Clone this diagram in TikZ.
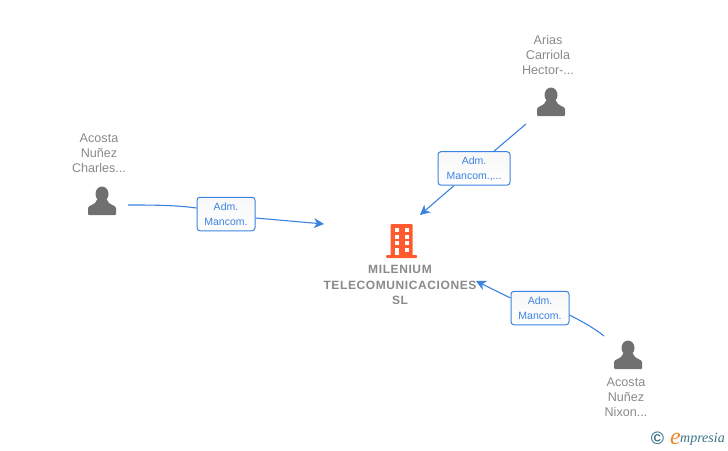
\documentclass[tikz,border=0pt]{standalone}
\usepackage{fontspec}
\setmainfont{Liberation Sans}
\newfontfamily\logofont{Liberation Serif}
\usetikzlibrary{positioning, arrows.meta}
\definecolor{linkblue}{HTML}{3B83E0}
\definecolor{namegray}{HTML}{8A8A8A}
\definecolor{icongray}{HTML}{707070}
\definecolor{firmorange}{HTML}{FF5B2E}
\definecolor{logoteal}{HTML}{3A7488}
\definecolor{logoorange}{HTML}{F08A24}
\tikzset{
personlabel/.style = {text = namegray, align = center, inner sep = 0pt,
   font = \fontsize{12.6}{15}\selectfont},
firmlabel/.style = {text = namegray, align = center, inner sep = 0pt,
   font = \fontsize{12}{15.5}\selectfont\bfseries\addfontfeature{LetterSpace = 5}},
role/.style = {rectangle, draw = linkblue, line width = 1pt, rounded corners = 3pt, top color = black!3,
   bottom color = white, text = linkblue, align = center, inner sep = 0pt,
   minimum height = 33.5pt, font = \fontsize{10.5}{15}\selectfont},
link/.style = {-{Stealth[length = 10pt, width = 10pt, inset = 3pt]}, linkblue, line width = 1.1pt},
linkstart/.style = {linkblue, line width = 1.1pt},
holder/.style = {minimum size = 28pt, inner sep = 0pt},
personicon/.pic = {
   \fill [icongray] (0,-7) ellipse [x radius = 6.5, y radius = 7.5];
   \fill [icongray, rounded corners = 1pt] (-14,14) -- (-14,8) .. controls (-14,4) and (-6,4) .. (-5,-2)
      -- (5,-2) .. controls (6,4) and (14,4) .. (14,8) -- (14,14) -- cycle;
},
buildingicon/.pic = {
   \fill [firmorange, rounded corners = 1pt] (-10.5,-17) rectangle (11.5,15);
   \fill [firmorange, rounded corners = 1pt] (-15,14) rectangle (16,17);
   \foreach \r in {-13,-6,0} {
      \fill [white] (-6.5,\r) rectangle (-2,\r+3.5);
      \fill [white] (3.5,\r) rectangle (8,\r+3.5);
   }
   \fill [white] (-6.5,7) rectangle (-2,14);
   \fill [white] (3.5,7) rectangle (8,11);
}
}
\begin{document}
\begin{tikzpicture}[x = 1pt, y = -1pt]
\useasboundingbox [fill = white] (0,0) rectangle (728,450);

%% Company
\node [holder] (firm) at (401,241) {};
\pic at (firm) {buildingicon};
\node [firmlabel] (firmname) at (400,285) {MILENIUM\\TELECOMUNICACIONES\\SL};

%% Persons
\foreach \id/\x/\y in {charles/102/201, hector/551/102, nixon/628/355} {
   \node [holder] (\id) at (\x,\y) {};
   \pic at (\id) {personicon};
}
\node [personlabel] (charlesname) at (99,153) {Acosta\\Nuñez\\Charles...};
\node [personlabel] (hectorname) at (548,55) {Arias\\Carriola\\Hector-...};
\node [personlabel] (nixonname) at (626,397) {Acosta\\Nuñez\\Nixon...};

%% Roles
\node [role, minimum width = 58pt] (rolecharles) at (226,214) {Adm.\\Mancom.};
\node [role, minimum width = 72pt] (rolehector) at (474,168.4) {Adm.\\Mancom.,...};
\node [role, minimum width = 58pt] (rolenixon) at (540,308) {Adm.\\Mancom.};

%% Connectors
\coordinate (startcharles) at (128,205);
\coordinate (endcharles) at (324,224);
\coordinate (starthector) at (526,124);
\coordinate (endhector) at (420,215);
\coordinate (startnixon) at (604,336);
\coordinate (endnixon) at (476,281);

\draw [linkstart] (startcharles) .. controls (150,205) and (175,205) .. (rolecharles.west |- 0,208);
\draw [link] (rolecharles.east |- 0,218) -- (endcharles);
\draw [linkstart] (starthector) -- (rolehector.north -| 494,0);
\draw [link] (rolehector.south -| 454,0) -- (endhector);
\draw [linkstart] (startnixon) .. controls (594,328) and (583,322) .. (rolenixon.east |- 0,315);
\draw [link] (rolenixon.west |- 0,298) -- (endnixon);

%% Logo
\node [inner sep = 0pt, text = logoteal, font = \fontsize{18}{18}\selectfont\bfseries] (logomark) at (657.5,438.5) {©};
\node [inner sep = 0pt, anchor = base west, text = logoorange, font = \logofont\fontsize{24}{24}\selectfont\itshape] (logoe) at (670,444) {e};
\node [inner sep = 0pt, anchor = base west, text = logoteal, font = \logofont\fontsize{14}{14}\selectfont\itshape] (logoword) at (680,442) {mpresia};
\end{tikzpicture}
\end{document}
